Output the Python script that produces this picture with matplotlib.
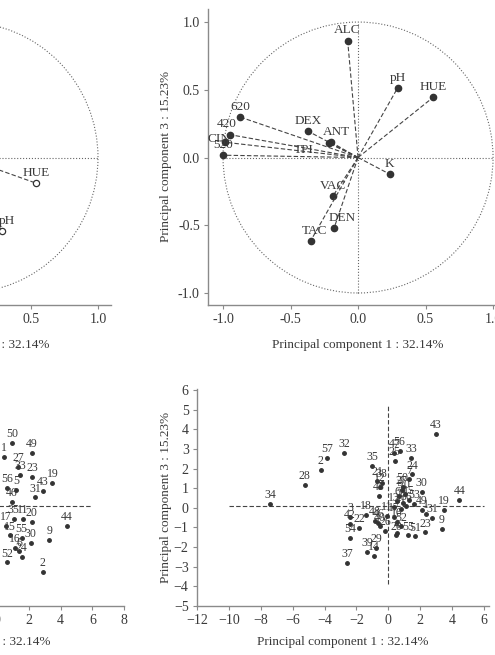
import numpy as np
import matplotlib
matplotlib.use("Agg")
import matplotlib.pyplot as plt
from matplotlib.patches import Circle

plt.rcParams['font.family'] = ['Liberation Serif', 'DejaVu Serif']

# loadings, PC1 vs PC2 (only the visible part of the left panel)
load12_names = ['HUE', 'pH']
load12_pc1 = [0.54, 0.28]
load12_pc2 = [-0.19, -0.54]

# loadings, PC1 vs PC3
load13_names = ['ALC', 'pH', 'HUE', '620', '420', 'CIN', '520', 'DEX', 'ANT', 'TPI',
                'K', 'VAC', 'DEN', 'TAC']
load13_pc1 = [-0.077, 0.294, 0.556, -0.874, -0.951, -0.988, -1.0, -0.370, -0.200, -0.215,
              0.235, -0.188, -0.178, -0.351]
load13_pc3 = [0.863, 0.515, 0.444, 0.299, 0.169, 0.113, 0.017, 0.194, 0.113, 0.105,
              -0.123, -0.287, -0.522, -0.615]

# scores, PC1 vs PC2 (visible part of the left panel)
sc12_names = ['50', '1', '49', '27', '33', '23', '19', '43', '31', '56', '5', '46',
              '35', '11', '20', '44', '9', '30', '15', '55', '16', '6', '24', '52', '2', '17']
sc12_pc1 = [0.96, 0.44, 2.18, 1.34, 1.45, 2.22, 3.48, 2.87, 2.39, 0.61, 1.19, 0.92,
            1.05, 1.61, 2.18, 4.38, 3.29, 2.12, 0.80, 1.55, 1.13, 1.40, 1.55, 0.65, 2.87, 0.57]
sc12_pc2 = [3.29, 2.61, 2.78, 2.10, 1.68, 1.56, 1.26, 0.87, 0.53, 1.00, 0.92, 0.32,
            -0.55, -0.58, -0.70, -0.92, -1.63, -1.77, -1.40, -1.54, -2.05, -2.22, -2.48,
            -2.78, -3.26, -0.92]

# scores, PC1 vs PC3
sc13_names = ['34', '28', '2', '57', '32', '35', '21', '38', '12', '45', '47', '56', '25',
              '33', '24', '7', '50', '30', '44', '19', '43', '9', '31', '23', '55', '51',
              '37', '39', '29', '14', '54', '42', '3', '22', '18', '48', '46', '40', '26',
              '11', '13', '5', '6', '8', '10', '15', '16', '17', '20', '27', '36', '41',
              '49', '52', '53', '4', '1']
sc13_pc1 = [-7.40, -5.25, -4.24, -3.85, -2.78, -1.00, -0.69, -0.41, -0.50, -0.60, 0.38,
            0.71, 0.40, 1.44, 1.50, 1.32, 0.90, 2.10, 4.45, 3.50, 2.97, 3.37, 2.75, 2.30,
            1.23, 1.68, -2.57, -1.32, -0.75, -0.92, -2.40, -2.40, -2.38, -1.82, -1.40,
            -0.82, -0.62, -0.55, -0.20, -0.08, 0.35, 0.70, 0.55, 0.90, 1.05, 1.30, 0.55,
            0.35, 0.50, 0.85, 1.10, 0.80, 2.10, 0.80, 1.60, 0.55, 2.35]
sc13_pc3 = [0.21, 1.15, 1.93, 2.56, 2.81, 2.13, 1.39, 1.26, 1.05, 0.62, 2.80, 2.90, 2.38,
            2.56, 1.70, 1.45, 1.08, 0.80, 0.42, -0.12, 3.76, -1.06, -0.50, -1.25, -1.40,
            -1.45, -2.79, -2.23, -2.03, -2.45, -1.52, -0.82, -0.48, -1.02, -0.38, -0.67,
            -0.75, -0.95, -1.18, -0.42, 0.05, 0.60, 0.35, 0.25, 0.70, 0.40, -0.70, -0.45,
            -1.40, 0.90, 0.10, -0.05, -0.10, -0.95, 0.20, -1.30, -0.30]

W, H = 495, 655
DARK = '#3a3a3a'
SPINE = '#8a8a8a'


def make_ax(fig, x0, x1, ytop, ybot):
    ax = fig.add_axes([x0 / W, 1 - ybot / H, (x1 - x0) / W, (ybot - ytop) / H])
    for s in ['top', 'right']:
        ax.spines[s].set_visible(False)
    for s in ['left', 'bottom']:
        ax.spines[s].set_color(SPINE)
        ax.spines[s].set_linewidth(1.0)
    ax.tick_params(direction='out', length=3, width=0.8, color=SPINE,
                   labelcolor=DARK, labelsize=10, pad=3)
    ax.patch.set_alpha(0)
    return ax


def loading_panel(ax, names, xs, ys, hollow=False, offsets=None):
    ax.add_patch(Circle((0, 0), 1, fill=False, ls=':', lw=0.8, color='#666666'))
    ax.plot([-1, 1], [0, 0], ls=':', lw=0.8, color='#666666')
    ax.plot([0, 0], [-1, 1], ls=':', lw=0.8, color='#666666')
    for n, x, y in zip(names, xs, ys):
        ax.plot([0, x], [0, y], ls='--', dashes=(4, 2), lw=0.8, color='#444444')
        if hollow:
            ax.plot(x, y, 'o', ms=4.5, mfc='white', mec='#333333', mew=0.9)
        else:
            ax.plot(x, y, 'o', ms=4.5, color='#333333')
        off = offsets.get(n, (0, 3)) if offsets else (0, 3)
        ax.annotate(n, (x, y), xytext=off, textcoords='offset points',
                    ha='center', va='bottom', fontsize=9.5, color=DARK)
    ax.set_xlim(-1.11, 1.11)
    ax.set_ylim(-1.085, 1.1)
    ax.set_xticks([-1.0, -0.5, 0.0, 0.5, 1.0])
    ax.set_yticks([-1.0, -0.5, 0.0, 0.5, 1.0])
    ax.xaxis.set_major_formatter(matplotlib.ticker.FormatStrFormatter('%.1f'))
    ax.yaxis.set_major_formatter(matplotlib.ticker.FormatStrFormatter('%.1f'))


def score_panel(ax, names, xs, ys, xmax):
    ax.plot([-10 if xmax < 7 else -12, 6], [0.1, 0.1], ls='--', dashes=(4, 2), lw=0.8, color='#444444')
    ax.plot([0, 0], [-3.9, 5.2], ls='--', dashes=(4, 2), lw=0.8, color='#444444')
    ax.plot(xs, ys, 'o', ms=2.5, color='#333333', ls='none')
    for n, x, y in zip(names, xs, ys):
        ax.annotate(n, (x, y), xytext=(0, 2), textcoords='offset points',
                    ha='center', va='bottom', fontsize=8.5, color=DARK)
    ax.set_xlim(-12, xmax)
    ax.set_ylim(-5, 6.05)
    ax.set_xticks(np.arange(-12, 7 if xmax < 7 else 9, 2))
    ax.set_yticks(np.arange(-5, 7, 1))


fig = plt.figure(figsize=(W / 100, H / 100), dpi=100)

# top left (PC1 vs PC2 loadings, mostly cropped)
ax1 = make_ax(fig, -183.4, 111.4, 8.5, 304.5)
loading_panel(ax1, load12_names, load12_pc1, load12_pc2, hollow=True,
              offsets={'pH': (4, 3)})
ax1.set_xlim(-1.1, 1.1)
ax1.set_xlabel('Principal component 1 : 32.14%', fontsize=9.5, color=DARK)
ax1.xaxis.set_label_coords(0.5, -0.115)

# top right (PC1 vs PC3 loadings)
ax2 = make_ax(fig, 208.2, 507.9, 8.5, 304.5)
loading_panel(ax2, load13_names, load13_pc1, load13_pc3,
              offsets={'TPI': (-18, -9), 'DEN': (6, 3), 'TAC': (3, 3), 'CIN': (-4, -2),
                       '420': (-2, 3), '620': (0, 3), 'ANT': (4, 3)})
ax2.set_xlabel('Principal component 1 : 32.14%', fontsize=9.5, color=DARK)
ax2.set_ylabel('Principal component 3 : 15.23%', fontsize=9.5, color=DARK)
ax2.xaxis.set_label_coords(0.5, -0.115)
ax2.yaxis.set_label_coords(-0.12, 0.5)

# bottom left (PC1 vs PC2 scores, mostly cropped)
ax3 = make_ax(fig, -193.8, 124.2, 389, 606)
score_panel(ax3, sc12_names, sc12_pc1, sc12_pc2, 8)
ax3.set_xlabel('Principal component 1 : 32.14%', fontsize=9.5, color=DARK)
ax3.xaxis.set_label_coords(0.5, -0.14)

# bottom right (PC1 vs PC3 scores)
ax4 = make_ax(fig, 197, 488.7, 389, 606)
score_panel(ax4, sc13_names, sc13_pc1, sc13_pc3, 6.3)
ax4.set_xlabel('Principal component 1 : 32.14%', fontsize=9.5, color=DARK)
ax4.set_ylabel('Principal component 3 : 15.23%', fontsize=9.5, color=DARK)
ax4.xaxis.set_label_coords(0.5, -0.14)
ax4.yaxis.set_label_coords(-0.085, 0.5)

fig.savefig('out.png', dpi=100, facecolor='white')
